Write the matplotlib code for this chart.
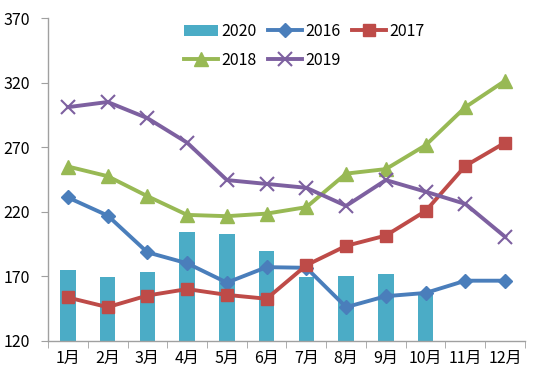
import numpy as np
import matplotlib
matplotlib.use('Agg')
import matplotlib.pyplot as plt
from matplotlib.ticker import FixedLocator

plt.rcParams['font.family'] = ['Noto Sans CJK SC', 'DejaVu Sans']

# Data
months = ['1月', '2月', '3月', '4月', '5月', '6月', '7月', '8月', '9月', '10月', '11月', '12月']
y2020 = [175, 169.5, 173, 204.5, 203, 189.5, 169, 170, 172, 158]
y2016 = [231, 217, 188.5, 180, 165, 177, 176.5, 146, 154.5, 157, 166.5, 166.5]
y2017 = [153.5, 146, 155, 160, 155.5, 152.5, 178.5, 193.5, 201.5, 220.5, 255.5, 273.5]
y2018 = [255, 247.5, 232, 217.5, 216.5, 218.5, 223.5, 249.5, 253, 271.5, 301, 321.5]
y2019 = [301, 305, 292.5, 273.5, 244.5, 241.5, 238.5, 224.5, 244.5, 235.5, 226, 200.5]
yticks = [120, 170, 220, 270, 320, 370]

x = np.arange(len(months))

fig = plt.figure(figsize=(5.5, 3.78), dpi=100)
ax = fig.add_axes([0.0873, 0.0987, 0.8672, 0.8533])

bars = ax.bar(x[:len(y2020)], y2020, width=0.39, bottom=0, color='#4BACC6', zorder=1, label='2020')
l16, = ax.plot(x, y2016, color='#4A7EBB', lw=2.8, marker='D', ms=7.5, zorder=3, label='2016')
l17, = ax.plot(x, y2017, color='#BE4B48', lw=2.8, marker='s', ms=8.5, zorder=3, label='2017')
l18, = ax.plot(x, y2018, color='#98B954', lw=2.8, marker='^', ms=10, zorder=3, label='2018')
l19, = ax.plot(x, y2019, color='#7D60A0', lw=2.8, marker='x', ms=9.5, mew=1.5, zorder=3, label='2019')

ax.set_ylim(120, 370)
ax.set_xlim(-0.5, len(months) - 0.5)
ax.set_yticks(yticks)
ax.set_xticks(x)
ax.set_xticklabels(months)
ax.xaxis.set_minor_locator(FixedLocator(np.arange(-0.5, len(months), 1.0)))
ax.tick_params(axis='x', which='major', length=0, pad=7, labelsize=11.5)
ax.tick_params(axis='x', which='minor', length=5, color='#A0A0A0', direction='out')
ax.tick_params(axis='y', length=5, color='#A0A0A0', labelsize=11.5, pad=8)

for s in ['top', 'right']:
    ax.spines[s].set_visible(False)
for s in ['left', 'bottom']:
    ax.spines[s].set_color('#A0A0A0')
    ax.spines[s].set_linewidth(1)

ax.legend([bars, l18, l16, l19, l17], ['2020', '2018', '2016', '2019', '2017'],
          ncol=3, frameon=False, loc='upper left', bbox_to_anchor=(0.255, 1.03),
          fontsize=11.5, handlelength=2.1, columnspacing=0.7, handletextpad=0.25,
          labelspacing=0.75)

fig.savefig('out.png', dpi=100)
